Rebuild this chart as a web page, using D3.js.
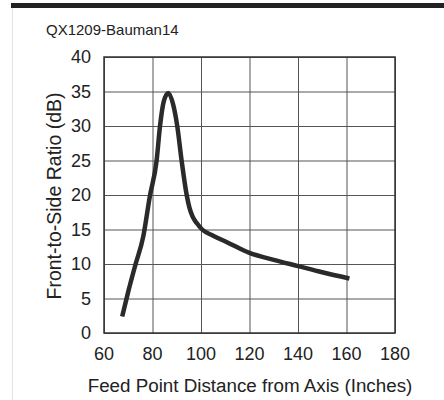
<!DOCTYPE html>
<html>
<head>
<meta charset="utf-8">
<script src="https://cdn.jsdelivr.net/npm/d3@7"></script>
<style>
  body { margin: 0; background: #fff; }
  svg text { font-family: "Liberation Sans", Arial, sans-serif; fill: #222; }
</style>
</head>
<body>
<div id="chart-container"></div>
<script>
// values
var feedDistance = [67.5, 70, 72.8, 76.2, 78.9, 81.7, 83.1, 84.6, 86.5, 88.6, 90.2, 92, 94.1, 95.2, 96.5, 98.3, 100.5, 105, 110.5, 120, 130, 140, 150, 161.2];
var frontToSide = [2.4, 6, 9.7, 14, 19.8, 25, 30, 33.5, 34.8, 33, 30, 25, 20, 18.2, 16.9, 15.9, 15, 14.1, 13.2, 11.6, 10.6, 9.7, 8.8, 7.9];
var xTicks = [60, 80, 100, 120, 140, 160, 180];
var yTicks = [0, 5, 10, 15, 20, 25, 30, 35, 40];
var chartTitle = "QX1209-Bauman14";
var xTitle = "Feed Point Distance from Axis (Inches)";
var yTitle = "Front-to-Side Ratio (dB)";

var width = 444,
    height = 400,
    margin = {left: 104, right: 49, top: 57, bottom: 67};

var svg = d3.select("#chart-container").append("svg")
    .attr("width", width)
    .attr("height", height);

// header bar + faint page edge
svg.append("rect").attr("x", 11).attr("y", 3).attr("width", width - 11).attr("height", 5).attr("fill", "#222");
svg.append("line").attr("x1", 12.5).attr("x2", 12.5).attr("y1", 8).attr("y2", height)
    .attr("stroke", "#e4e4e4").attr("stroke-width", 1);

var xScale = d3.scaleLinear().domain([60, 180]).range([margin.left, width - margin.right]);
var yScale = d3.scaleLinear().domain([0, 40]).range([height - margin.bottom, margin.top]);

var grid = svg.append("g").attr("class", "grid");
grid.selectAll("line.v").data(xTicks).enter().append("line")
    .attr("class", "v")
    .attr("x1", d => xScale(d) + 0.5).attr("x2", d => xScale(d) + 0.5)
    .attr("y1", yScale(0)).attr("y2", yScale(40))
    .attr("stroke", "#555").attr("stroke-width", 1);
grid.selectAll("line.h").data(yTicks).enter().append("line")
    .attr("class", "h")
    .attr("x1", xScale(60)).attr("x2", xScale(180))
    .attr("y1", d => yScale(d) + 0.5).attr("y2", d => yScale(d) + 0.5)
    .attr("stroke", "#555").attr("stroke-width", 1);

svg.append("rect")
    .attr("x", xScale(60)).attr("y", yScale(40))
    .attr("width", xScale(180) - xScale(60))
    .attr("height", yScale(0) - yScale(40))
    .attr("fill", "none").attr("stroke", "#333").attr("stroke-width", 1.5);

// tick labels
svg.append("g").selectAll("text").data(xTicks).enter().append("text")
    .attr("x", d => xScale(d))
    .attr("y", 360)
    .attr("text-anchor", "middle")
    .style("font-size", "18px")
    .text(d => d);

svg.append("g").selectAll("text").data(yTicks).enter().append("text")
    .attr("x", 91)
    .attr("y", d => yScale(d) + 6)
    .attr("text-anchor", "end")
    .style("font-size", "18px")
    .text(d => d);

// titles
svg.append("text")
    .attr("x", 46).attr("y", 35)
    .style("font-size", "15px")
    .text(chartTitle);

svg.append("text")
    .attr("x", 250).attr("y", 392)
    .attr("text-anchor", "middle")
    .style("font-size", "18.8px")
    .text(xTitle);

svg.append("text")
    .attr("transform", "translate(61," + 196 + ") rotate(-90)")
    .attr("text-anchor", "middle")
    .style("font-size", "19.5px")
    .text(yTitle);

// curve
var points = feedDistance.map((d, i) => [d, frontToSide[i]]);
var line = d3.line()
    .x(d => xScale(d[0]))
    .y(d => yScale(d[1]))
    .curve(d3.curveMonotoneX);

svg.append("path")
    .datum(points)
    .attr("d", line)
    .attr("fill", "none")
    .attr("stroke", "#2a2a2a")
    .attr("stroke-width", 4.5)
    .attr("stroke-linejoin", "round");
</script>
</body>
</html>
